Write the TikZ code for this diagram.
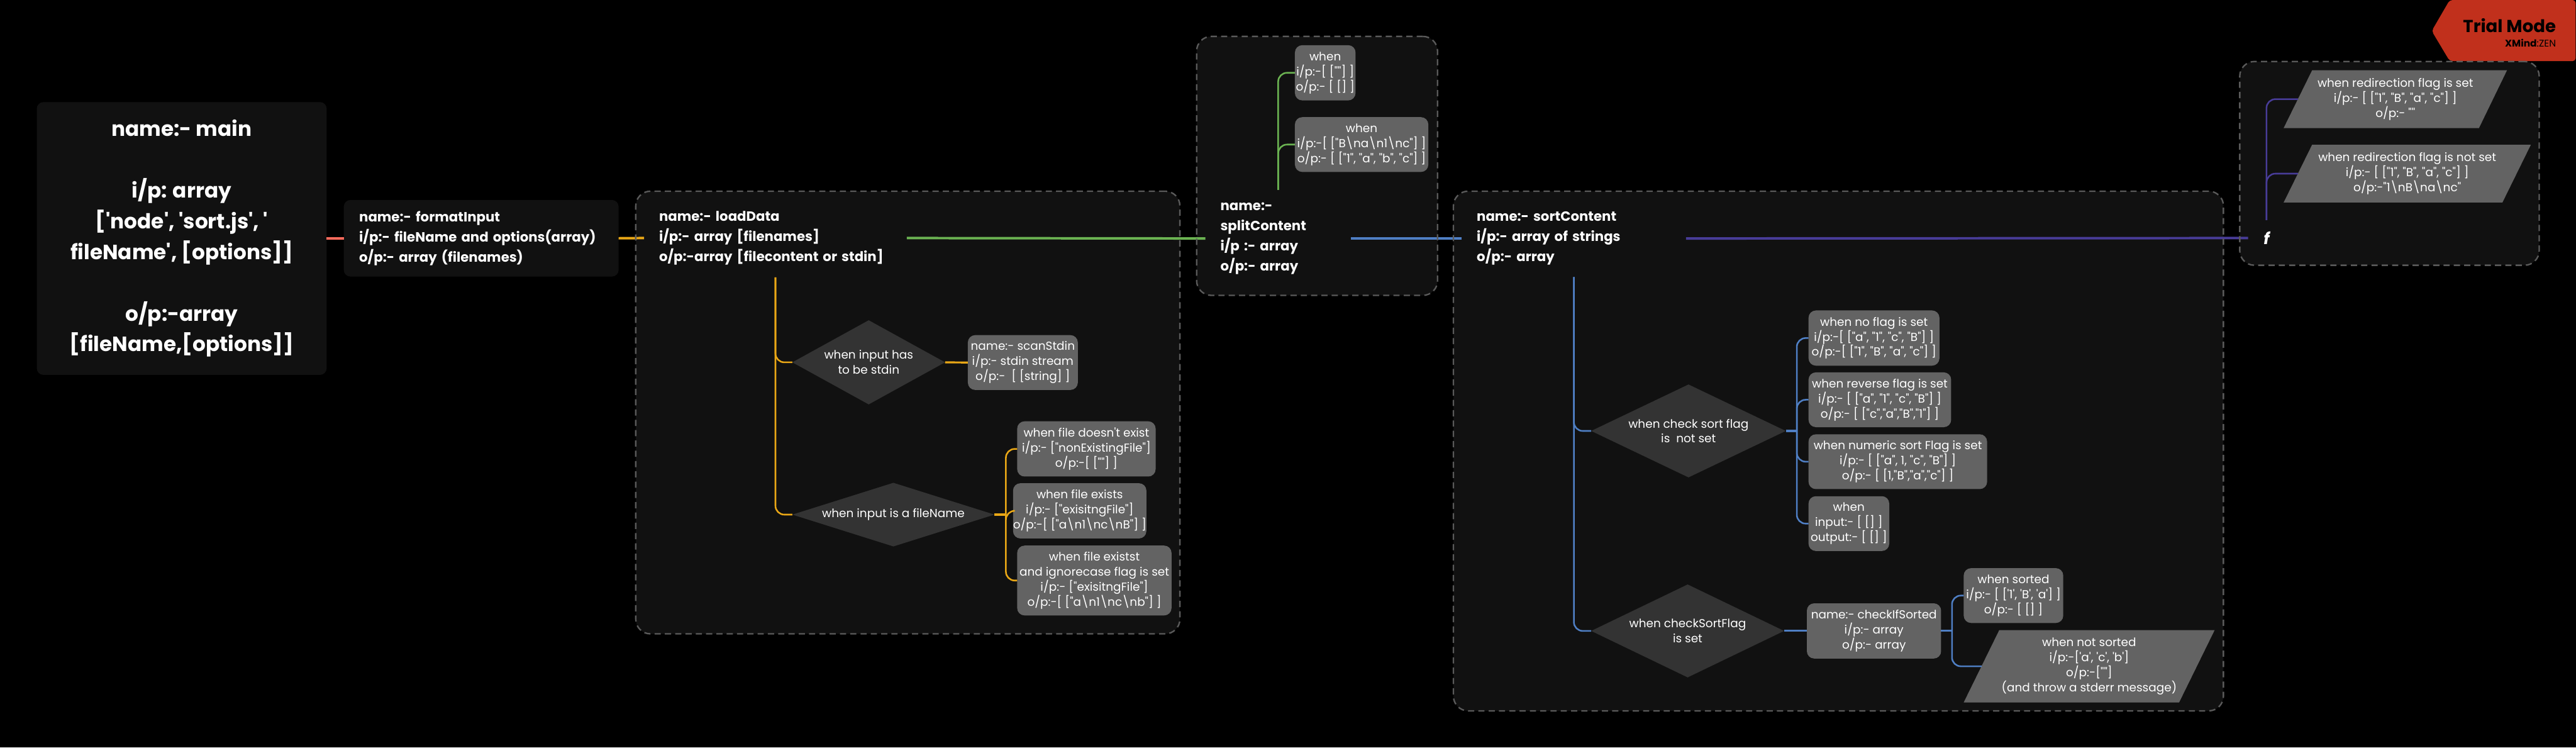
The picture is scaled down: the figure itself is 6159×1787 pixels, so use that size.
\documentclass[tikz,border=0pt]{standalone}
\usepackage{fontspec}
\usetikzlibrary{shapes.geometric}
\newfontfamily\mf{Poppins}
\definecolor{panel}{HTML}{111111}
\definecolor{graybox}{HTML}{636363}
\definecolor{dia}{HTML}{333333}
\definecolor{dashc}{HTML}{5A5A5A}
\definecolor{lred}{HTML}{FF6B5C}
\definecolor{lorange}{HTML}{E9A716}
\definecolor{lgreen}{HTML}{6BB352}
\definecolor{lblue}{HTML}{4F7FC4}
\definecolor{lpurple}{HTML}{483C98}
\definecolor{trial}{HTML}{C1301C}
\newcommand{\bs}{\textbackslash{}}
\newcommand{\pxb}[7]{\node[#1,minimum width={(#5-#3)*0.01cm},minimum height={(#6-#4)*0.01cm}] (#2) at ({(#3+#5)/2},{(#4+#6)/2}) {#7};}
\tikzset{
  allnodes/.style={inner sep=0pt,outer sep=0pt,text=white},
  smallfont/.style={font=\mf\fontsize{7.9}{10.24}\selectfont},
  midfont/.style={font=\mf\bfseries\fontsize{9.1}{13.66}\selectfont},
  bigfont/.style={font=\mf\bfseries\fontsize{14}{20.9}\selectfont},
  panelbox/.style={allnodes,fill=panel,rounded corners=4.5pt},
  groupfill/.style={allnodes,fill=panel,rounded corners=10pt},
  groupline/.style={allnodes,draw=dashc,line width=1pt,rounded corners=10pt,dash pattern=on 4.2pt off 2.8pt},
  graycard/.style={allnodes,smallfont,fill=graybox,rounded corners=5pt,align=center},
  plaincard/.style={allnodes,smallfont,align=center},
  diamondcard/.style={allnodes,smallfont,diamond,fill=dia,align=center},
  headtext/.style={allnodes,midfont,align=left},
  trunk/.style={line width=1.7pt},
  stem/.style={line width=1.35pt},
  elbow/.style={line width=1.1pt,rounded corners=6pt},
}
\begin{document}
\begin{tikzpicture}[x=0.01cm,y=-0.01cm]
\useasboundingbox (0,0) rectangle (6159,1787);
\fill[black] (0,0) rectangle (6159,1787);
% group backgrounds
\pxb{groupfill}{gloadbg}{1520}{457}{2821}{1515}{}
\pxb{groupfill}{gsplitbg}{2861}{87}{3437}{706}{}
\pxb{groupfill}{gsortbg}{3475}{457}{5316}{1699}{}
\pxb{groupfill}{gfbg}{5355}{147}{6071}{634}{}
% trial badge
\fill[trial,rounded corners=2pt] (5857,0) -- (5814,74) -- (5857,146) -- (6158,146) -- (6158,0) -- cycle;
\node[allnodes,text=black,anchor=east,font=\mf\bfseries\fontsize{11.8}{14}\selectfont] (trialt) at (6111,61) {Trial Mode};
\node[allnodes,text=black,anchor=east,font=\mf\fontsize{6.6}{8}\selectfont] (trialz) at (6111,103) {{\bfseries XMind}:ZEN};
% left boxes
\pxb{panelbox,bigfont,align=center}{main}{88}{244}{781}{896}{name:- main\\[20.9pt]i/p: array\\{[}'node', 'sort.js', '\\fileName', {[}options]]\\[20.9pt]o/p:-array\\{[}fileName,{[}options]]}
\pxb{panelbox,midfont,align=left,text width=5.83cm}{fmt}{822}{478}{1479}{661}{name:- formatInput\\i/p:- fileName and options(array)\\o/p:- array (filenames)}
% loadData
\pxb{headtext,text width=5.56cm}{ld}{1540}{475}{2168}{663}{name:- loadData\\i/p:- array {[}filenames]\\o/p:-array {[}filecontent or stdin]}
\node[diamondcard,aspect=1.8,minimum width=3.65cm,minimum height=2.01cm] (dstdin) at (2077,866) {when input has\\to be stdin};
\pxb{graycard}{scan}{2314}{801}{2577}{932}{name:- scanStdin\\i/p:- stdin stream\\o/p:-\ \ {[} {[}string] ]}
\node[diamondcard,aspect=3.2,minimum width=4.83cm,minimum height=1.52cm] (dfile) at (2136,1230) {when input is a fileName};
\pxb{graycard}{fa}{2432}{1007}{2763}{1139}{when file doesn't exist\\i/p:- {[}"nonExistingFile"]\\o/p:-{[} {[}""] ]}
\pxb{graycard}{fb}{2432}{1155}{2731}{1287}{when file exists\\i/p:- {[}"exisitngFile"]\\o/p:-{[} {[}"a\bs n1\bs nc\bs nB"] ]}
\pxb{graycard}{fc}{2432}{1304}{2801}{1471}{when file existst\\and ignorecase flag is set\\i/p:- {[}"exisitngFile"]\\o/p:-{[} {[}"a\bs n1\bs nc\bs nb"] ]}
% splitContent
\pxb{headtext,text width=2.76cm}{sp}{2882}{454}{3230}{686}{name:-\\splitContent\\i/p :- array\\o/p:- array}
\pxb{graycard}{sa}{3096}{108}{3241}{240}{when\\i/p:-{[} {[}""] ]\\o/p:- {[} {[}] ]}
\pxb{graycard}{sb}{3096}{280}{3415}{411}{when\\i/p:-{[} {[}"B\bs na\bs n1\bs nc"] ]\\o/p:- {[} {[}"1", "a", "b", "c"] ]}
% sortContent
\pxb{headtext,text width=4.64cm}{so}{3495}{478}{4031}{662}{name:- sortContent\\i/p:- array of strings\\o/p:- array}
\node[diamondcard,aspect=2.1,minimum width=4.65cm,minimum height=2.22cm] (dnot) at (4037,1030) {when check sort flag\\is\ \ not set};
\pxb{graycard}{na}{4324}{742}{4637}{874}{when no flag is set\\i/p:-{[} {[}"a", "1", "c", "B"] ]\\o/p:-{[} {[}"1", "B", "a", "c"] ]}
\pxb{graycard}{nb}{4324}{890}{4665}{1021}{when reverse flag is set\\i/p:- {[} {[}"a", "1", "c", "B"] ]\\o/p:- {[} {[}"c","a","B","1"] ]}
\pxb{graycard}{nc}{4324}{1038}{4751}{1169}{when numeric sort Flag is set\\i/p:- {[} {[}"a", 1, "c", "B"] ]\\o/p:- {[} {[}1,"B","a","c"] ]}
\pxb{graycard}{nd}{4324}{1186}{4517}{1317}{when\\input:- {[} {[}] ]\\output:- {[} {[}] ]}
\node[diamondcard,aspect=2.1,minimum width=4.61cm,minimum height=2.22cm] (dset) at (4035,1508) {when checkSortFlag\\is set};
\pxb{graycard}{chk}{4320}{1442}{4641}{1574}{name:- checkIfSorted\\i/p:- array\\o/p:- array}
\pxb{graycard}{sorted}{4695}{1358}{4933}{1489}{when sorted\\i/p:- {[} {[}'1', 'B', 'a'] ]\\o/p:- {[} {[}] ]}
\fill[graybox] (4780,1506) -- (5295,1506) -- (5210,1679) -- (4695,1679) -- cycle;
\pxb{plaincard}{unsorted}{4738}{1506}{5252}{1679}{when not sorted\\i/p:-{[}'a', 'c', 'b']\\o/p:-{[}""]\\(and throw a stderr message)}
% f group
\pxb{allnodes}{fn}{5375}{526}{5463}{612}{\mf\bfseries\itshape\fontsize{11}{13}\selectfont f}
\fill[graybox] (5528,168) -- (5994,168) -- (5927,306) -- (5460,306) -- cycle;
\pxb{plaincard}{ra}{5494}{168}{5960}{306}{when redirection flag is set\\i/p:- {[} {[}"1", "B", "a", "c"] ]\\o/p:- ""}
\fill[graybox] (5528,346) -- (6051,346) -- (5983,484) -- (5460,484) -- cycle;
\pxb{plaincard}{rb}{5494}{346}{6017}{484}{when redirection flag is not set\\i/p:- {[} {[}"1", "B", "a", "c"] ]\\o/p:-"1\bs nB\bs na\bs nc"}
% connectors
\draw[lred,trunk] (main.east) -- (main.east -| fmt.west);
\draw[lorange,trunk] (fmt.east) -- (ld.west);
\draw[lgreen,trunk] (ld.east) -- (sp.west);
\draw[lblue,trunk] (sp.east) -- (so.west);
\draw[lpurple,trunk] (so.east) -- (fn.west);
\draw[lorange,elbow] (ld.south) |- (dstdin.west);
\draw[lorange,elbow] (ld.south) |- (dfile.west);
\draw[lorange,stem] (dstdin.east) -- (scan.west);
\coordinate (forkf) at (2405,1230);
\draw[lorange,stem] (dfile.east) -- (forkf);
\draw[lorange,elbow] (forkf) |- (fa.west);
\draw[lorange,elbow] (forkf) |- (fb.west);
\draw[lorange,elbow] (forkf) |- (fc.west);
\draw[lgreen,elbow] (sp.north) |- (sa.west);
\draw[lgreen,elbow] (sp.north) |- (sb.west);
\draw[lblue,elbow] (so.south) |- (dnot.west);
\draw[lblue,elbow] (so.south) |- (dset.west);
\coordinate (forkn) at (4296,1030);
\draw[lblue,stem] (dnot.east) -- (forkn);
\draw[lblue,elbow] (forkn) |- (na.west);
\draw[lblue,elbow] (forkn) |- (nb.west);
\draw[lblue,elbow] (forkn) |- (nc.west);
\draw[lblue,elbow] (forkn) |- (nd.west);
\draw[lblue,stem] (dset.east) -- (chk.west);
\coordinate (forks) at (4667,1508);
\draw[lblue,stem] (chk.east) -- (forks);
\draw[lblue,elbow] (forks) |- (sorted.west);
\draw[lblue,elbow] (forks) |- (unsorted.west);
\draw[lpurple,elbow] (fn.north) |- (ra.west);
\draw[lpurple,elbow] (fn.north) |- (rb.west);
% dashed outlines on top of connectors
\pxb{groupline}{gload}{1520}{457}{2821}{1515}{}
\pxb{groupline}{gsplit}{2861}{87}{3437}{706}{}
\pxb{groupline}{gsort}{3475}{457}{5316}{1699}{}
\pxb{groupline}{gf}{5355}{147}{6071}{634}{}
\end{tikzpicture}
\end{document}
